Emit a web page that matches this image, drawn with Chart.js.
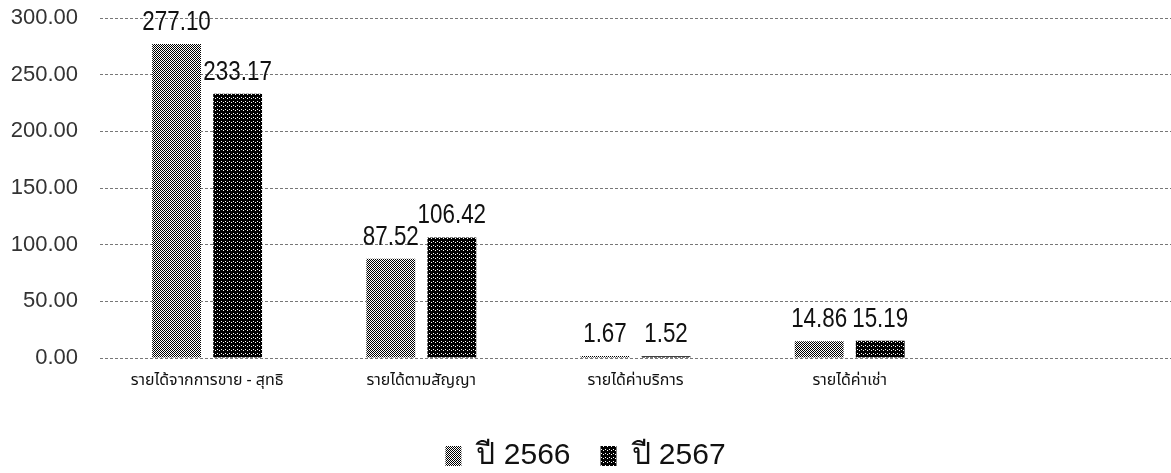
<!DOCTYPE html>
<html>
<head>
<meta charset="utf-8">
<script src="https://cdn.jsdelivr.net/npm/chart.js@4.4.1/dist/chart.umd.min.js"></script>
<style>
  html, body { margin: 0; padding: 0; background: #fff; }
  #wrap { width: 1171px; height: 473px; position: relative; }
</style>
</head>
<body>
<div id="wrap"><canvas id="c"></canvas></div>
<script>
const categories = ['รายได้จากการขาย - สุทธิ', 'รายได้ตามสัญญา', 'รายได้ค่าบริการ', 'รายได้ค่าเช่า'];
const seriesNames = ['ปี 2566', 'ปี 2567'];
const values2566 = [277.10, 87.52, 1.67, 14.86];
const values2567 = [233.17, 106.42, 1.52, 15.19];
const yTicks = [0, 50, 100, 150, 200, 250, 300];

function makePattern(kind) {
  const t = document.createElement('canvas');
  t.width = 4; t.height = 4;
  const g = t.getContext('2d');
  if (kind === 1) {
    g.fillStyle = '#ffffff'; g.fillRect(0, 0, 4, 4);
    g.fillStyle = '#000000';
    for (let y = 0; y < 4; y++) for (let x = 0; x < 4; x++) {
      if ((x + y) % 2 === 0 || (y === 3 && x === 1)) g.fillRect(x, y, 1, 1);
    }
  } else {
    g.fillStyle = '#000000'; g.fillRect(0, 0, 4, 4);
    g.fillStyle = '#ffffff';
    g.fillRect(1, 1, 1, 1);
    g.fillRect(3, 2, 1, 1);
  }
  return g.createPattern(t, 'repeat');
}

const SANS = '"Liberation Sans", Arial, sans-serif';

const valueLabels = {
  id: 'valueLabels',
  afterDatasetsDraw(chart) {
    const ctx = chart.ctx;
    ctx.save();
    ctx.font = '28px ' + SANS;
    ctx.fillStyle = '#111';
    ctx.textAlign = 'center';
    ctx.textBaseline = 'alphabetic';
    const sx = 0.8;
    chart.data.datasets.forEach((ds, i) => {
      const meta = chart.getDatasetMeta(i);
      meta.data.forEach((el, j) => {
        const v = ds.data[j];
        if (v === null || v === undefined) return;
        ctx.save();
        ctx.translate(el.x, el.y - 14);
        ctx.scale(sx, 1);
        ctx.fillText(v.toFixed(2), 0, 0);
        ctx.restore();
      });
    });
    ctx.restore();
  }
};

new Chart(document.getElementById('c'), {
  type: 'bar',
  data: {
    labels: categories.concat(['']),
    datasets: [
      { label: seriesNames[0], data: values2566, backgroundColor: makePattern(1), borderWidth: 0 },
      { label: seriesNames[1], data: values2567, backgroundColor: makePattern(2), borderWidth: 0 }
    ]
  },
  options: {
    responsive: true,
    maintainAspectRatio: false,
    animation: false,
    devicePixelRatio: 1,
    categoryPercentage: 0.57,
    barPercentage: 0.80,
    layout: { padding: { top: 0, right: 0, left: 0, bottom: -8 } },
    plugins: {
      legend: {
        position: 'bottom',
        labels: {
          font: { size: 30, family: SANS },
          color: '#111',
          boxWidth: 16,
          boxHeight: 20,
          padding: 30
        }
      },
      tooltip: { enabled: false }
    },
    scales: {
      x: {
        grid: { display: false, drawTicks: false },
        border: { display: false },
        ticks: {
          font: { size: 16, family: '"Noto Sans Thai", "Noto Sans", sans-serif' },
          color: '#111',
          padding: 14,
          maxRotation: 0,
          autoSkip: false
        },
        afterFit(s) { s.height = 53; }
      },
      y: {
        min: 0,
        max: 300,
        afterBuildTicks(s) { s.ticks = yTicks.map(v => ({ value: v })); },
        afterFit(s) { s.width = 100; s.paddingTop = 18; s.paddingBottom = 0; },
        border: { display: false, dash: [3, 2] },
        grid: {
          color: '#777',
          lineWidth: 1,
          drawTicks: false
        },
        ticks: {
          font: { size: 22, family: SANS },
          color: '#333',
          padding: 22,
          callback: v => Number(v).toFixed(2)
        }
      }
    }
  },
  plugins: [valueLabels]
});
</script>
</body>
</html>
